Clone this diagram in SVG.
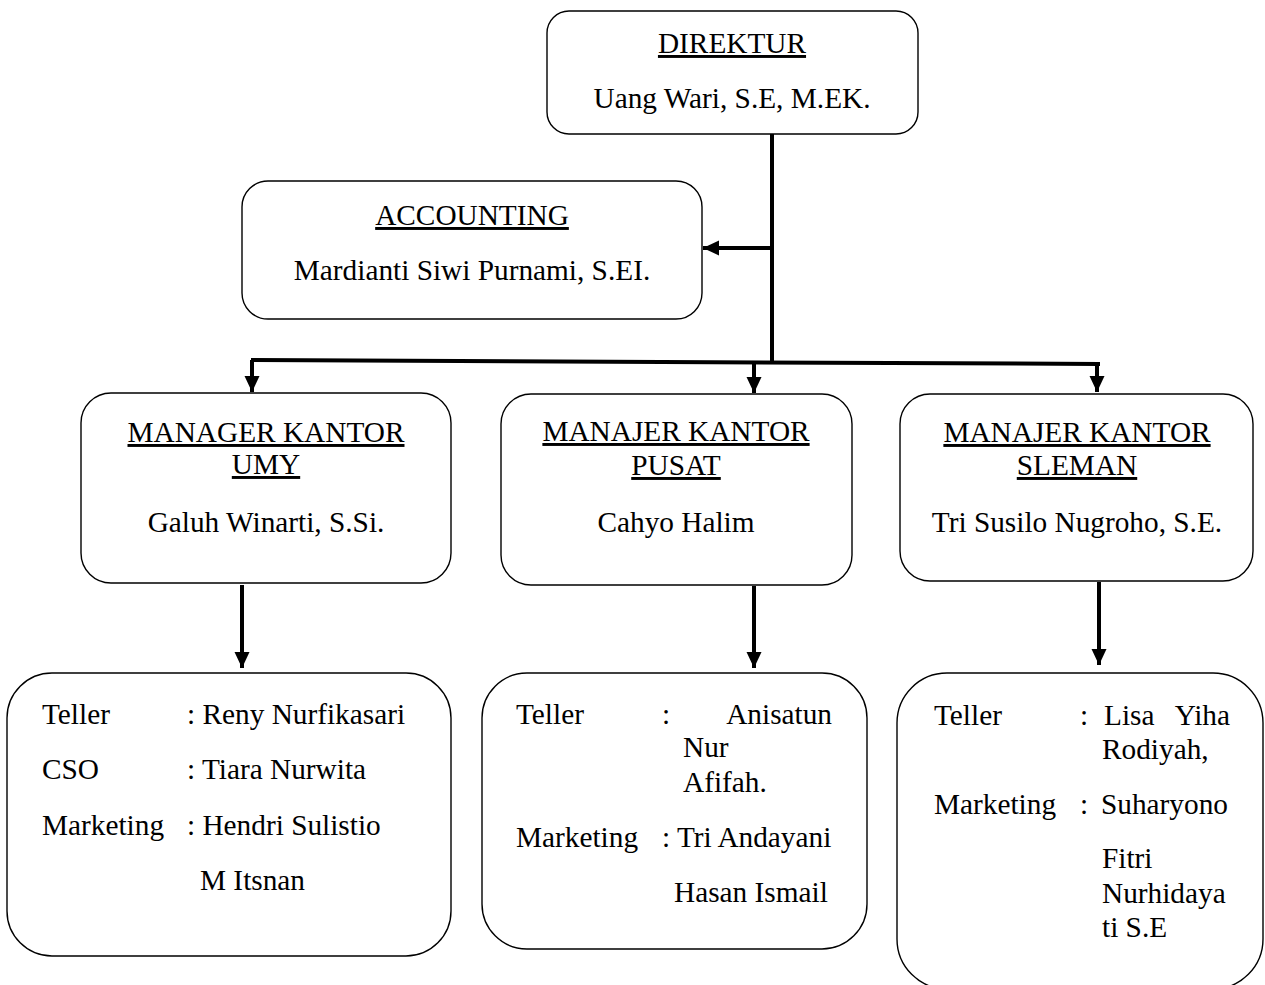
<svg xmlns="http://www.w3.org/2000/svg" width="1265" height="985" viewBox="0 0 1265 985">
<style>
.box{fill:#fff;stroke:#000;stroke-width:1.4}
text{font-family:"Liberation Serif","Times New Roman",serif;font-size:29.3px;fill:#000}
.c{text-anchor:middle}
.u{text-decoration:underline}
.e{text-anchor:end}
.ln{stroke:#000;stroke-width:4;fill:none}
</style>
<defs>
<marker id="ah" markerUnits="userSpaceOnUse" markerWidth="16" markerHeight="16" viewBox="0 0 16 16" refX="16" refY="8" orient="auto">
<path d="M0,0.5 L16,8 L0,15.5 Z" fill="#000"/>
</marker>
</defs>
<rect width="1265" height="985" fill="#fff"/>
<g id="connectors">
<line class="ln" x1="772" y1="134" x2="772" y2="364"/>
<line class="ln" x1="772" y1="248" x2="703" y2="248" marker-end="url(#ah)"/>
<line class="ln" x1="251" y1="360" x2="1100" y2="364"/>
<line class="ln" x1="252" y1="360" x2="252" y2="392" marker-end="url(#ah)"/>
<line class="ln" x1="754" y1="363" x2="754" y2="393" marker-end="url(#ah)"/>
<line class="ln" x1="1097" y1="364" x2="1097" y2="392" marker-end="url(#ah)"/>
<line class="ln" x1="242" y1="585" x2="242" y2="668" marker-end="url(#ah)"/>
<line class="ln" x1="754" y1="586" x2="754" y2="668" marker-end="url(#ah)"/>
<line class="ln" x1="1099" y1="582" x2="1099" y2="665" marker-end="url(#ah)"/>
</g>
<g id="direktur">
<rect class="box" x="547" y="11" width="371" height="123" rx="22"/>
<text class="c u" x="732" y="53">DIREKTUR</text>
<text class="c" x="732" y="108">Uang Wari, S.E, M.EK.</text>
</g>
<g id="accounting">
<rect class="box" x="242" y="181" width="460" height="138" rx="26"/>
<text class="c u" x="472" y="225">ACCOUNTING</text>
<text class="c" x="472" y="280">Mardianti Siwi Purnami, S.EI.</text>
</g>
<g id="manager-umy">
<rect class="box" x="81" y="393" width="370" height="190" rx="30"/>
<text class="c u" x="266" y="442">MANAGER KANTOR</text>
<text class="c u" x="266" y="474">UMY</text>
<text class="c" x="266" y="532">Galuh Winarti, S.Si.</text>
</g>
<g id="manajer-pusat">
<rect class="box" x="501" y="394" width="351" height="191" rx="30"/>
<text class="c u" x="676" y="441">MANAJER KANTOR</text>
<text class="c u" x="676" y="475">PUSAT</text>
<text class="c" x="676" y="532">Cahyo Halim</text>
</g>
<g id="manajer-sleman">
<rect class="box" x="900" y="394" width="353" height="187" rx="30"/>
<text class="c u" x="1077" y="442">MANAJER KANTOR</text>
<text class="c u" x="1077" y="475">SLEMAN</text>
<text class="c" x="1077" y="532">Tri Susilo Nugroho, S.E.</text>
</g>
<g id="staff-umy">
<rect class="box" x="7" y="673" width="444" height="283" rx="45"/>
<text x="42" y="724">Teller</text>
<text x="187" y="724">: Reny Nurfikasari</text>
<text x="42" y="779">CSO</text>
<text x="187" y="779">: Tiara Nurwita</text>
<text x="42" y="835">Marketing</text>
<text x="187" y="835">: Hendri Sulistio</text>
<text x="200" y="890">M Itsnan</text>
</g>
<g id="staff-pusat">
<rect class="box" x="482" y="673" width="385" height="276" rx="45"/>
<text x="516" y="724">Teller</text>
<text x="662" y="724">:</text>
<text class="e" x="832" y="724">Anisatun</text>
<text x="683" y="757">Nur</text>
<text x="683" y="792">Afifah.</text>
<text x="516" y="847">Marketing</text>
<text x="662" y="847">: Tri Andayani</text>
<text x="674" y="902">Hasan Ismail</text>
</g>
<g id="staff-sleman">
<rect class="box" x="897" y="673" width="366" height="316" rx="50"/>
<text x="934" y="725">Teller</text>
<text x="1080" y="725">:</text>
<text x="1104" y="725">Lisa</text>
<text class="e" x="1230" y="725">Yiha</text>
<text x="1102" y="759">Rodiyah,</text>
<text x="934" y="814">Marketing</text>
<text x="1080" y="814">:</text>
<text x="1101" y="814">Suharyono</text>
<text x="1102" y="868">Fitri</text>
<text x="1102" y="903">Nurhidaya</text>
<text x="1102" y="937">ti S.E</text>
</g>
</svg>
